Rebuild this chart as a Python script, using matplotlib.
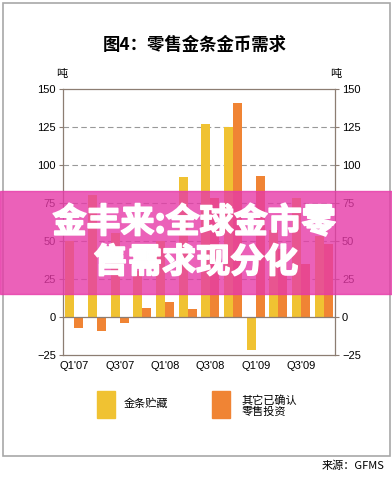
import matplotlib.pyplot as plt
import numpy as np
from matplotlib.patches import Rectangle
import matplotlib.patheffects as pe

plt.rcParams['font.family'] = ['Liberation Sans', 'Noto Sans CJK SC', 'DejaVu Sans']

quarters = ["Q1'07", "Q2'07", "Q3'07", "Q4'07", "Q1'08", "Q2'08",
            "Q3'08", "Q4'08", "Q1'09", "Q2'09", "Q3'09", "Q4'09"]
bar_hoarding = [50, 80, 55, 30, 50, 92, 127, 125, -22, 57, 78, 53]
other_retail = [-7, -9, -4, 6, 10, 5, 78, 141, 93, 45, 35, 48]
yticks = [-25, 0, 25, 50, 75, 100, 125, 150]

W, H = 392, 486
GOLD = '#f0c232'
ORANGE = '#f08434'
AXCOL = '#8c7d72'


def fx(px):
    return px / W


def fy(py):
    return 1 - py / H


fig = plt.figure(figsize=(W / 100, H / 100), dpi=100)
fig.patch.set_facecolor('white')

# outer frame
fig.add_artist(Rectangle((fx(3), fy(456)), fx(390) - fx(3), fy(3) - fy(456),
                         transform=fig.transFigure, fill=False,
                         edgecolor='#a8a8a8', linewidth=1.2))

ax = fig.add_axes([fx(63), fy(355), fx(335) - fx(63), fy(89) - fy(355)])
x = np.arange(len(quarters))
ax.bar(x - 0.2, bar_hoarding, 0.4, color=GOLD, zorder=3)
ax.bar(x + 0.2, other_retail, 0.4, color=ORANGE, zorder=3)

ax.set_xlim(-0.5, len(quarters) - 0.5)
ax.set_ylim(-25, 150)
ax.set_yticks(yticks)
ax.set_xticks(x[::2])
ax.set_xticklabels(quarters[::2], fontsize=8)
ax.tick_params(axis='x', length=0, pad=4)
ax.tick_params(axis='y', labelsize=8, length=3, color=AXCOL, pad=2,
               right=True, labelright=True)
for yv in yticks[2:-1]:
    ax.axhline(yv, color='#999999', linewidth=0.8, linestyle=(0, (5, 3)), zorder=1)
ax.axhline(0, color=AXCOL, linewidth=0.9, zorder=4)
for s in ax.spines.values():
    s.set_color(AXCOL)
    s.set_linewidth(0.9)

# title and units
fig.text(fx(195), fy(45), '图4：零售金条金币需求', ha='center', va='center',
         fontsize=12.5, fontweight='bold', family=['Noto Sans CJK SC'])
fig.text(fx(62), fy(74), '吨', ha='center', va='center', fontsize=8,
         family=['Noto Sans CJK SC'])
fig.text(fx(336), fy(74), '吨', ha='center', va='center', fontsize=8,
         family=['Noto Sans CJK SC'])

# legend
fig.add_artist(Rectangle((fx(97), fy(418)), fx(18), 27 / H,
                         transform=fig.transFigure, color=GOLD))
fig.text(fx(124), fy(404), '金条贮藏', ha='left', va='center', fontsize=8,
         family=['Noto Sans CJK SC'])
fig.add_artist(Rectangle((fx(212), fy(418)), fx(18), 27 / H,
                         transform=fig.transFigure, color=ORANGE))
fig.text(fx(242), fy(400), '其它已确认', ha='left', va='center',
         fontsize=8, family=['Noto Sans CJK SC'])
fig.text(fx(242), fy(412), '零售投资', ha='left', va='center',
         fontsize=8, family=['Noto Sans CJK SC'])

# source
fig.text(fx(384), fy(466), '来源：GFMS', ha='right', va='center', fontsize=8,
         style='italic', family=['Noto Sans CJK SC', 'DejaVu Sans'])

# banner overlay
fig.add_artist(Rectangle((0, fy(294)), 1, (294 - 191) / H,
                         transform=fig.transFigure, color='#e63aa8',
                         alpha=0.8, zorder=10))
stroke = [pe.withStroke(linewidth=1.2, foreground='white')]
fig.text(fx(194), fy(222), '金丰来:全球金市零', ha='center', va='center',
         fontsize=24.5, fontweight='bold', color='white', zorder=11,
         family=['Noto Sans CJK SC'], path_effects=stroke)
fig.text(fx(196), fy(262), '售需求现分化', ha='center', va='center',
         fontsize=24.5, fontweight='bold', color='white', zorder=11,
         family=['Noto Sans CJK SC'], path_effects=stroke)

fig.savefig('out.png', dpi=100)
